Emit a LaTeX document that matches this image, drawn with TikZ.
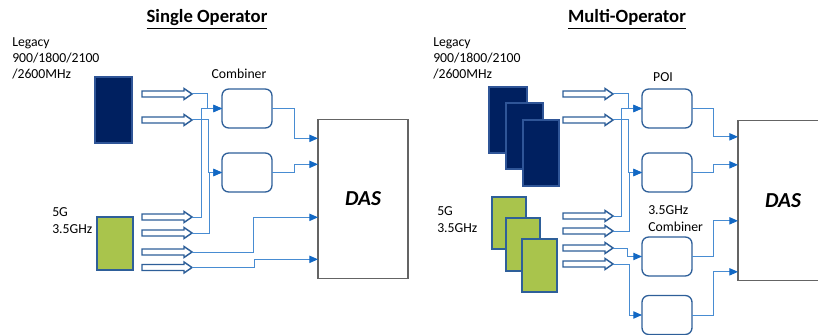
\documentclass[tikz,border=0pt]{standalone}
\usepackage{fontspec}
\setmainfont{Carlito}[Numbers=Monospaced]
\usetikzlibrary{arrows.meta,calc}
\definecolor{navy}{RGB}{0,32,96}
\definecolor{navyedge}{RGB}{47,85,151}
\definecolor{olive}{RGB}{169,196,76}
\definecolor{boxedge}{RGB}{46,95,153}
\definecolor{wirec}{RGB}{72,140,210}
\definecolor{tipc}{RGB}{18,104,196}
\definecolor{dasedge}{RGB}{100,100,100}
\begin{document}
\begin{tikzpicture}[x=0.75pt,y=-0.75pt,
  lbl/.style={font=\fontsize{10.3}{12.3}\selectfont,align=left,anchor=north west,inner sep=0pt},
  ttl/.style={font=\fontsize{14}{16}\selectfont\bfseries,inner sep=0pt,anchor=base},
  navyrect/.style={fill=navy,draw=navyedge,line width=0.9pt},
  greenrect/.style={fill=olive,draw=boxedge,line width=0.9pt},
  cbox/.style={draw=boxedge,line width=1pt,rounded corners=5pt,minimum width=37.5pt,minimum height=29.25pt,inner sep=0pt,outer sep=0pt},
  dasbox/.style={draw=dasedge,line width=0.8pt,minimum width=67.5pt,minimum height=119.5pt,inner sep=0pt,outer sep=0pt,font=\fontsize{16}{18}\selectfont\bfseries\itshape},
  wire/.style={draw=wirec,line width=0.75pt,-{Triangle[length=6.5pt,width=5.5pt,color=tipc,fill=tipc]}},
  harrowline/.style={draw=boxedge,line width=1.1pt,fill=white,line join=miter},
  harrow/.pic={\draw[harrowline] (0,-3) -- (42,-3) -- (42,-5.5) -- (50,0) -- (42,5.5) -- (42,3) -- (0,3) -- cycle;
    \coordinate (-tip) at (50,0);}
]
\useasboundingbox (0,0) rectangle (818,335);

% ---------------- Single operator ----------------
\node[ttl] (t1) at (207,23) {\underline{Single Operator}};
\node[lbl] (leg1) at (12,37) {Legacy\\900/1800/2100\\/2600MHz};
\node[lbl] (fg1) at (52,207.5) {5G\\3.5GHz};
\node[inner sep=0pt,anchor=base] (comb1) at (239,79) {\fontsize{10.3}{12.3}\selectfont Combiner};

\draw[navyrect] (95,77) rectangle (132,143);
\draw[greenrect] (97,217) rectangle (133,270);

\pic (la1) at (142,94) {harrow};
\pic (la2) at (142,120) {harrow};
\pic (g1) at (142,217) {harrow};
\pic (g2) at (142,233) {harrow};
\pic (g3) at (142,252) {harrow};
\pic (g4) at (142,267.5) {harrow};

\node[cbox] (c1) at (247,108.5) {};
\node[cbox] (c2) at (247,172.5) {};
\node[dasbox] (das1) at (363,199) {DAS};

\coordinate (d11) at ($(das1.north west)+(0,19)$);
\coordinate (d12) at ($(das1.north west)+(0,45)$);
\coordinate (d13) at ($(das1.north west)+(0,98)$);
\coordinate (d14) at ($(das1.north west)+(0,140)$);

\draw[wire] (la1-tip) -- ++(15,0) |- (c1.west);
\draw[wire] (g1-tip) -- ++(9,0) |- (c1.west);
\draw[wire] (la2-tip) -- ++(16,0) |- (c2.west);
\draw[wire] (g2-tip) -- ++(17,0) |- (c2.west);
\draw[wire] (c1.east) -- ++(22,0) |- (d11);
\draw[wire] (c2.east) -- ++(22,0) |- (d12);
\draw[wire] (g3-tip) -- ++(61,0) |- (d13);
\draw[wire] (g4-tip) -- ++(62,0) |- (d14);

% ---------------- Multi operator ----------------
\node[ttl] (t2) at (627,23) {\underline{Multi-Operator}};
\node[lbl] (leg2) at (433,37) {Legacy\\900/1800/2100\\/2600MHz};
\node[lbl] (fg2) at (437,206.5) {5G\\3.5GHz};
\node[inner sep=0pt,anchor=base] (poi) at (663,82) {\fontsize{10.3}{12.3}\selectfont POI};
\node[lbl] (comb2) at (648,205.5) {3.5GHz\\Combiner};

\draw[navyrect] (489,87) rectangle (527,153);
\draw[navyrect] (506,103) rectangle (543,169);
\draw[navyrect] (523,120) rectangle (559,186);
\draw[greenrect] (492,197) rectangle (526,249);
\draw[greenrect] (506,218) rectangle (540,271);
\draw[greenrect] (522,239) rectangle (557,292);

\pic (ma1) at (563,94) {harrow};
\pic (ma2) at (563,120) {harrow};
\pic (mg1) at (563,216) {harrow};
\pic (mg2) at (563,231) {harrow};
\pic (mg3) at (563,248) {harrow};
\pic (mg4) at (563,264) {harrow};

\node[cbox] (p1) at (667,108.5) {};
\node[cbox] (p2) at (667,172.5) {};
\node[cbox] (k1) at (667,256.5) {};
\node[cbox] (k2) at (667,315) {};
\node[dasbox] (das2) at (783,200.5) {DAS};

\coordinate (d21) at ($(das2.north west)+(0,16)$);
\coordinate (d22) at ($(das2.north west)+(0,44)$);
\coordinate (d23) at ($(das2.north west)+(0,100)$);
\coordinate (d24) at ($(das2.north west)+(0,151)$);

\draw[wire] (ma1-tip) -- ++(15,0) |- (p1.west);
\draw[wire] (mg1-tip) -- ++(8,0) |- (p1.west);
\draw[wire] (ma2-tip) -- ++(15,0) |- (p2.west);
\draw[wire] (mg2-tip) -- ++(16,0) |- (p2.west);
\draw[wire] (mg3-tip) -- ++(14,0) |- (k1.west);
\draw[wire] (mg4-tip) -- ++(16,0) |- (k2.west);
\draw[wire] (p1.east) -- ++(21,0) |- (d21);
\draw[wire] (p2.east) -- ++(21,0) |- (d22);
\draw[wire] (k1.east) -- ++(21,0) |- (d23);
\draw[wire] (k2.east) -- ++(21,0) |- (d24);
\end{tikzpicture}
\end{document}
